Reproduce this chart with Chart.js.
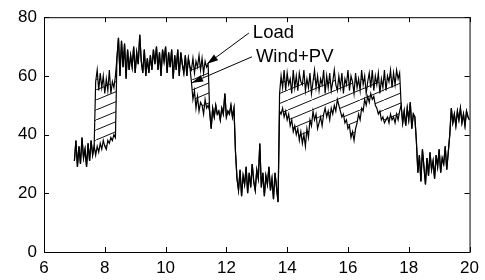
<!DOCTYPE html>
<html>
<head>
<meta charset="utf-8">
<script src="https://cdn.jsdelivr.net/npm/chart.js@4/dist/chart.umd.min.js"></script>
<style>
  body { margin: 0; background: #fff; }
  canvas { display: block; }
</style>
</head>
<body>
<canvas id="chart" width="485" height="280"></canvas>
<script>
// hours sampled every 0.05 h from 7:00 to 20:00
const startHour = 7;
const stepHour = 0.05;

const load = [
    31, 38, 29, 36, 30, 39, 32, 35, 29, 37, 31, 38, 33, 36,
    58, 62, 55, 61, 56, 60, 54, 59, 55, 62, 54, 58, 56, 60,
    66, 73, 60, 72, 63, 71, 59, 69, 62, 67, 63, 70, 61,
    68, 64, 74, 65, 61, 69, 60, 66, 61, 67,
    62, 69, 64, 70, 62, 68, 60, 69, 65, 70, 61, 68, 63, 69, 59, 67, 62, 69, 60, 68, 64, 61, 67, 60, 66, 63,
    62, 66, 61, 65, 63, 67, 62, 66, 61, 65, 63, 64,
    48, 42, 49, 46, 50, 47, 48, 45, 49, 47, 54, 46, 48, 47, 50, 46, 49,
    34, 25, 21, 28, 19, 26, 23, 29, 20, 27, 22, 30, 24, 21, 28, 25, 37, 22, 27, 19, 26, 23, 29, 21, 25, 18, 27, 22, 17,
    54, 60, 56, 62, 55, 61, 57, 59, 54, 62, 56, 60, 55, 61, 58, 57, 62, 55, 59, 56,
    61, 54, 58, 62, 56, 60, 55, 59, 57, 62, 54, 60, 56, 61, 55, 58, 62, 57, 55, 60,
    56, 61, 54, 59, 57, 62, 55, 60, 58, 54, 61, 56, 59, 55, 62, 57, 60, 54, 58, 61,
    56, 62, 55, 60, 57, 61, 54, 59, 56, 62, 55, 60, 58, 62, 56, 61, 57, 62, 59, 61,
    50, 44, 48, 43, 49, 45, 51, 42, 47, 46,
    38, 27, 33, 24, 35, 29, 23, 32, 26, 34, 28, 31, 25, 33, 29, 35, 27, 32, 30, 36, 28, 34,
    40, 49, 44, 47, 43, 48, 45, 49, 44, 47, 43, 48, 46, 45
];

const windPv = [
    31, 38, 29, 36, 30, 39, 32, 35, 29, 37, 31, 38, 33, 36,
    33, 36, 34, 37, 35, 38, 36, 35, 38, 37, 39, 38, 40, 39,
    66, 73, 60, 72, 63, 71, 59, 69, 62, 67, 63, 70, 61,
    68, 64, 74, 65, 61, 69, 60, 66, 61, 67,
    62, 69, 64, 70, 62, 68, 60, 69, 65, 70, 61, 68, 63, 69, 59, 67, 62, 69, 60, 68, 64, 61, 67, 60, 66, 63,
    58, 52, 55, 49, 53, 48, 51, 50, 47, 52, 49, 50,
    48, 42, 49, 46, 50, 47, 48, 45, 49, 47, 54, 46, 48, 47, 50, 46, 49,
    34, 25, 21, 28, 19, 26, 23, 29, 20, 27, 22, 30, 24, 21, 28, 25, 37, 22, 27, 19, 26, 23, 29, 21, 25, 18, 27, 22, 17,
    48, 47, 49, 46, 48, 45, 47, 43, 45, 41, 43, 40, 42, 38, 41, 37, 40, 36, 42, 39,
    45, 43, 48, 45, 47, 42, 44, 46, 43, 47, 49, 46, 48, 45, 49, 47, 50, 48, 52, 50,
    48, 46, 47, 44, 45, 42, 43, 39, 41, 38, 42, 44, 47, 45, 49, 48, 52, 50, 53, 51,
    54, 52, 53, 50, 49, 47, 48, 45, 46, 44, 45, 46, 44, 47, 45, 46, 44, 47, 45, 48,
    50, 44, 48, 43, 49, 45, 51, 42, 47, 46,
    38, 27, 33, 24, 35, 29, 23, 32, 26, 34, 28, 31, 25, 33, 29, 35, 27, 32, 30, 36, 28, 34,
    40, 49, 44, 47, 43, 48, 45, 49, 44, 47, 43, 48, 46, 45
];

const xTicks = [6, 8, 10, 12, 14, 16, 18, 20];
const yTicks = [0, 20, 40, 60, 80];

// arrows: [label, tail x, tail y, head x, head y]
const notes = [
    ['Load', 12.74, 74.6, 11.37, 64.1],
    ['Wind+PV', 12.84, 66.5, 10.87, 57.7]
];

const FONT = "'Liberation Sans', Arial, sans-serif";

function toPoints(values) {
    return values.map((v, i) => ({x: startHour + i * stepHour, y: v}));
}

const canvas = document.getElementById('chart');
const ctx = canvas.getContext('2d');

function makeHatch() {
    const tile = document.createElement('canvas');
    tile.width = 24;
    tile.height = 10;
    const g = tile.getContext('2d');
    g.strokeStyle = '#111';
    g.lineWidth = 1;
    g.beginPath();
    g.moveTo(0, 10);
    g.lineTo(24, 0);
    g.stroke();
    return ctx.createPattern(tile, 'repeat');
}

const boxPlugin = {
    id: 'box',
    afterDraw(chart) {
        const a = chart.chartArea;
        const c = chart.ctx;
        const sx = chart.scales.x, sy = chart.scales.y;
        c.save();
        c.strokeStyle = '#000';
        c.lineWidth = 1;
        c.strokeRect(a.left + 0.5, a.top + 0.5, a.right - a.left, a.bottom - a.top);
        c.beginPath();
        xTicks.forEach(t => {
            const px = Math.round(sx.getPixelForValue(t)) + 0.5;
            c.moveTo(px, a.bottom); c.lineTo(px, a.bottom - 5);
            c.moveTo(px, a.top); c.lineTo(px, a.top + 5);
        });
        yTicks.forEach(t => {
            const py = Math.round(sy.getPixelForValue(t)) + 0.5;
            c.moveTo(a.left, py); c.lineTo(a.left + 5, py);
            c.moveTo(a.right, py); c.lineTo(a.right - 5, py);
        });
        c.stroke();
        c.restore();
    }
};

const notePlugin = {
    id: 'notes',
    afterDatasetsDraw(chart) {
        const c = chart.ctx;
        const sx = chart.scales.x, sy = chart.scales.y;
        c.save();
        c.strokeStyle = '#000';
        c.fillStyle = '#000';
        c.lineWidth = 1;
        c.font = '18.5px ' + FONT;
        c.textBaseline = 'middle';
        notes.forEach(([label, x0, y0, x1, y1]) => {
            const ax = sx.getPixelForValue(x0), ay = sy.getPixelForValue(y0);
            const bx = sx.getPixelForValue(x1), by = sy.getPixelForValue(y1);
            c.beginPath();
            c.moveTo(ax, ay);
            c.lineTo(bx, by);
            c.stroke();
            const ang = Math.atan2(by - ay, bx - ax);
            c.beginPath();
            c.moveTo(bx, by);
            c.lineTo(bx - 11 * Math.cos(ang) + 3.5 * Math.sin(ang), by - 11 * Math.sin(ang) - 3.5 * Math.cos(ang));
            c.lineTo(bx - 11 * Math.cos(ang) - 3.5 * Math.sin(ang), by - 11 * Math.sin(ang) + 3.5 * Math.cos(ang));
            c.closePath();
            c.fill();
            c.fillText(label, ax + 4, ay);
        });
        c.restore();
    }
};

const chart = new Chart(canvas, {
    type: 'line',
    data: {
        datasets: [{
                label: 'Load',
                data: toPoints(load),
                borderColor: '#000',
                borderWidth: 1.2,
                pointRadius: 0,
                fill: false
            }, {
                label: 'Wind+PV',
                data: toPoints(windPv),
                borderColor: '#000',
                borderWidth: 1.2,
                pointRadius: 0,
                backgroundColor: makeHatch(),
                fill: 0
            }]
    },
    options: {
        responsive: false,
        animation: false,
        devicePixelRatio: 1,
        layout: {padding: {top: 15, right: 13, left: 0, bottom: 0}},
        plugins: {legend: {display: false}, tooltip: {enabled: false}},
        scales: {
            x: {
                type: 'linear',
                min: 6,
                max: 20,
                afterBuildTicks: s => { s.ticks = xTicks.map(v => ({value: v})); },
                afterFit: s => { s.height = 28; },
                grid: {display: false, drawTicks: false},
                border: {display: false},
                ticks: {color: '#000', padding: 6, maxRotation: 0, font: {family: FONT, size: 17}}
            },
            y: {
                min: 0,
                max: 80,
                afterBuildTicks: s => { s.ticks = yTicks.map(v => ({value: v})); },
                afterFit: s => { s.width = 44; },
                grid: {display: false, drawTicks: false},
                border: {display: false},
                ticks: {color: '#000', padding: 7, font: {family: FONT, size: 17}}
            }
        }
    },
    plugins: [boxPlugin, notePlugin]
});
</script>
</body>
</html>
